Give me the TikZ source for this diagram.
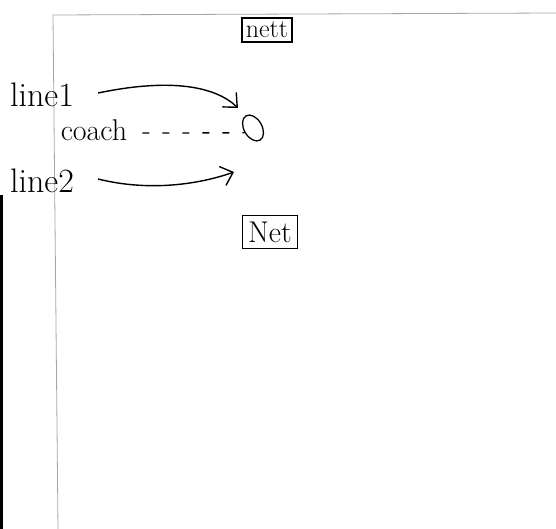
\documentclass[tikz,border=0pt]{standalone}
\usetikzlibrary{arrows.meta,shapes.geometric}
\begin{document}
\begin{tikzpicture}[x=1pt,y=-1pt,
  lbl/.style={inner sep=0pt,anchor=center,font=\fontsize{34}{36}\selectfont},
  boxlbl/.style={draw,line width=1.3pt,inner sep=5pt,font=\fontsize{26}{28}\selectfont},
  arr/.style={line width=1.4pt,-{Straight Barb[length=11pt,width=20pt,line width=1.4pt]}},
  frame/.style={draw=gray!70,line width=0.8pt}]
\useasboundingbox (0,0) rectangle (556,529);
\fill[black] (0,195) rectangle (3,529);
\draw[frame] (53,15) -- (556,13);
\draw[frame] (53,15) -- (58,529);
\node[boxlbl,inner sep=4pt] (nett) at (267,30) {nett};
\node[lbl] (line1) at (42,95) {line1};
\node[lbl,font=\fontsize{30}{32}\selectfont] (coach) at (94,130) {coach};
\node[lbl] (line2) at (42,181) {line2};
\node[ellipse,draw,line width=1.3pt,minimum width=18pt,minimum height=28pt,rotate=30,inner sep=0pt] (o) at (253,128) {};
\node[boxlbl,font=\fontsize{30}{32}\selectfont,inner sep=6pt] (net) at (270,232) {Net};
\draw[arr] (line1.east) ++(24,-2) coordinate (s1) .. controls (170,78) and (215,86) .. (238,108);
\draw[line width=1.3pt,dash pattern=on 7pt off 13pt] (coach.east) ++(15,3) -- (o.west);
\draw[arr] (line2.east) ++(24,-2) coordinate (s2) .. controls (150,192) and (200,184) .. (234,172);
\end{tikzpicture}
\end{document}
